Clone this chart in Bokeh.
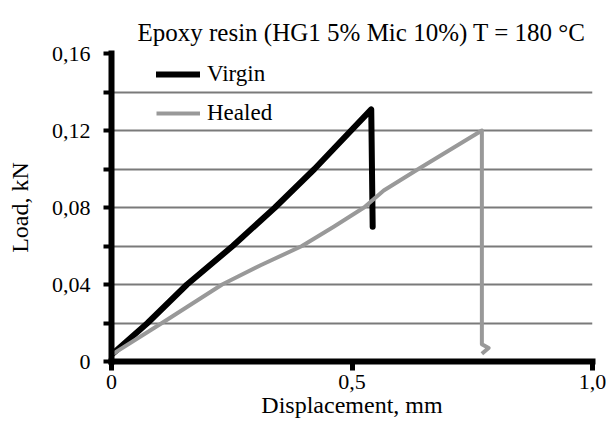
from bokeh.plotting import figure
from bokeh.models import Range1d, FixedTicker, Legend, LegendItem
from bokeh.embed import file_html
from bokeh.resources import INLINE

# ---- data ----
virgin_x = [0.0, 0.075, 0.157, 0.252, 0.340, 0.422, 0.540, 0.543]
virgin_y = [0.0035, 0.020, 0.040, 0.060, 0.080, 0.100, 0.131, 0.070]

healed_x = [0.0, 0.105, 0.230, 0.310, 0.396, 0.462, 0.525, 0.566, 0.638, 0.770, 0.770, 0.784, 0.770]
healed_y = [0.0035, 0.020, 0.040, 0.050, 0.060, 0.070, 0.080, 0.0888, 0.100, 0.120, 0.009, 0.007, 0.004]

y_major = [0.0, 0.04, 0.08, 0.12, 0.16]
y_minor = [0.02, 0.06, 0.10, 0.14]
y_grid = [0.02, 0.04, 0.06, 0.08, 0.10, 0.12, 0.14, 0.16]
y_labels = ["0", "0,04", "0,08", "0,12", "0,16"]
x_major = [0.0, 0.5, 1.0]
x_labels = ["0", "0,5", "1,0"]

title_text = "Epoxy resin (HG1 5% Mic 10%) T = 180 °C"
x_title = "Displacement, mm"
y_title = "Load, kN"
FONT = "Liberation Serif"

p = figure(width=606, height=425, output_backend="svg", toolbar_location=None,
           x_range=Range1d(0, 1.0), y_range=Range1d(0, 0.16),
           min_border_left=111, min_border_right=14, min_border_top=53, min_border_bottom=64)
p.outline_line_color = None
p.background_fill_color = "white"
p.border_fill_color = "white"

# title
p.title.text = title_text
p.title.text_font = FONT
p.title.text_font_size = "25px"
p.title.text_font_style = "normal"
p.title.text_color = "black"
p.title.align = "left"
p.title.offset = 26
p.title.standoff = 16

# grid
p.xgrid.visible = False
p.ygrid.ticker = FixedTicker(ticks=y_grid)
p.ygrid.grid_line_color = "#7a7a7a"
p.ygrid.grid_line_width = 2

# y axis
ya = p.yaxis[0]
ya.ticker = FixedTicker(ticks=y_major, minor_ticks=y_minor)
ya.major_label_overrides = {t: s for t, s in zip(y_major, y_labels)}
ya.axis_line_width = 6
ya.axis_line_color = "black"
ya.axis_line_cap = "square"
ya.major_tick_in = 0
ya.major_tick_out = 8
ya.major_tick_line_width = 4
ya.minor_tick_in = 0
ya.minor_tick_out = 8
ya.minor_tick_line_width = 4
ya.major_label_standoff = 13
ya.major_label_text_font = FONT
ya.major_label_text_font_size = "22px"
ya.major_label_text_color = "black"
ya.axis_label = y_title
ya.axis_label_text_font = FONT
ya.axis_label_text_font_size = "24px"
ya.axis_label_text_font_style = "normal"
ya.axis_label_text_color = "black"
ya.axis_label_standoff = 16

# x axis
xa = p.xaxis[0]
xa.ticker = FixedTicker(ticks=x_major, minor_ticks=[])
xa.major_label_overrides = {t: s for t, s in zip(x_major, x_labels)}
xa.axis_line_width = 6
xa.axis_line_color = "black"
xa.axis_line_cap = "square"
xa.major_tick_in = 0
xa.major_tick_out = 9
xa.major_tick_line_width = 5
xa.minor_tick_line_color = None
xa.major_label_standoff = 4
xa.major_label_text_font = FONT
xa.major_label_text_font_size = "22px"
xa.major_label_text_color = "black"
xa.axis_label = x_title
xa.axis_label_text_font = FONT
xa.axis_label_text_font_size = "24px"
xa.axis_label_text_font_style = "normal"
xa.axis_label_text_color = "black"
xa.axis_label_standoff = 0

# curves
rv = p.line(virgin_x, virgin_y, line_color="black", line_width=6,
            line_join="round", line_cap="round")
rh = p.line(healed_x, healed_y, line_color="#999999", line_width=4,
            line_join="round", line_cap="butt")

legend = Legend(items=[LegendItem(label="Virgin", renderers=[rv]),
                       LegendItem(label="Healed", renderers=[rh])],
                location=(45, 233), margin=0, padding=0, spacing=9,
                glyph_width=44, glyph_height=30, label_height=30,
                label_standoff=7, label_text_font=FONT,
                label_text_font_size="23px", label_text_color="black",
                background_fill_alpha=0, border_line_color=None)
p.add_layout(legend, "center")

open("out.html", "w").write(file_html(p, INLINE))
